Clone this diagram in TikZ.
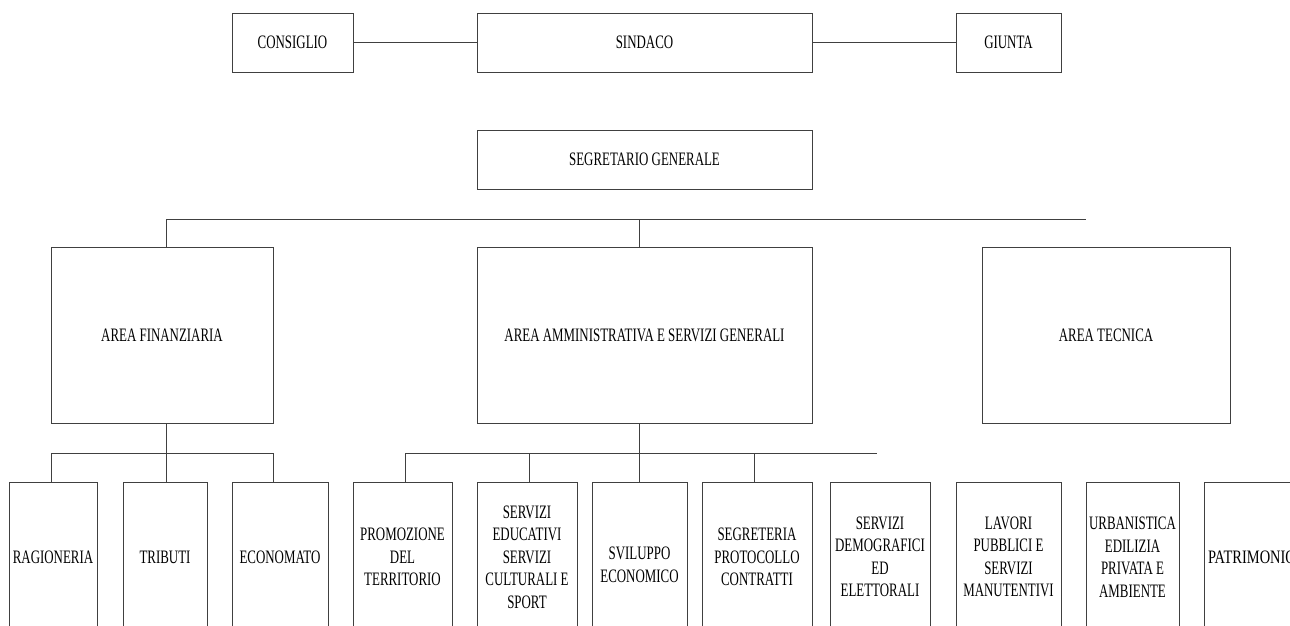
\documentclass[tikz,border=0pt]{standalone}
\usepackage{fontspec}
\setmainfont{Liberation Serif}[FakeStretch=0.68]
\begin{document}
\begin{tikzpicture}[x=1pt,y=-1pt,
  box/.style={draw=black!75, line width=0.9pt, rectangle, inner sep=0pt, align=center,
    font=\fontsize{19}{22.5}\selectfont},
  conn/.style={draw=black!75, line width=0.9pt}]
\useasboundingbox (0,0) rectangle (1290,626);
\clip (0,0) rectangle (1290,626);
% top row
\node[box, minimum width=121pt, minimum height=59pt] (cons) at (292.5,42.5) {CONSIGLIO};
\node[box, minimum width=335pt, minimum height=59pt] (sind) at (644.5,42.5) {SINDACO};
\node[box, minimum width=105pt, minimum height=59pt] (giun) at (1008.5,42.5) {GIUNTA};
\node[box, minimum width=335pt, minimum height=59pt] (segr) at (644.5,159.5) {SEGRETARIO GENERALE};
\draw[conn] (cons) -- (sind);
\draw[conn] (sind) -- (giun);
% areas
\node[box, minimum width=222pt, minimum height=176pt] (fin) at (162,335) {AREA FINANZIARIA};
\node[box, minimum width=335pt, minimum height=176pt] (amm) at (644.5,335) {AREA AMMINISTRATIVA E SERVIZI GENERALI};
\node[box, minimum width=248pt, minimum height=176pt] (tec) at (1106,335) {AREA TECNICA};
\coordinate (barL) at (166,219);
\coordinate (barM) at (639,219);
\coordinate (barR) at (1086,219);
\draw[conn] (barL) -- (barR);
\draw[conn] (barL) -- (barL |- fin.north);
\draw[conn] (barM) -- (barM |- amm.north);
% bottom boxes
\node[box, minimum width=88pt, minimum height=150pt] (rag) at (53,557) {RAGIONERIA};
\node[box, minimum width=84pt, minimum height=150pt] (trib) at (165,557) {TRIBUTI};
\node[box, minimum width=96pt, minimum height=150pt] (econ) at (280,557) {ECONOMATO};
\node[box, minimum width=99pt, minimum height=150pt] (prom) at (402.5,557) {PROMOZIONE\\DEL\\TERRITORIO};
\node[box, minimum width=100pt, minimum height=150pt] (edu) at (527,557) {SERVIZI\\EDUCATIVI\\SERVIZI\\CULTURALI E\\SPORT};
\node[box, minimum width=95pt, minimum height=166pt] (svil) at (639.5,565) {SVILUPPO\\ECONOMICO};
\node[box, minimum width=110pt, minimum height=150pt] (sgp) at (757,557) {SEGRETERIA\\PROTOCOLLO\\CONTRATTI};
\node[box, minimum width=100pt, minimum height=150pt] (demo) at (880,557) {SERVIZI\\DEMOGRAFICI\\ED\\ELETTORALI};
\node[box, minimum width=105pt, minimum height=150pt] (lav) at (1008.5,557) {LAVORI\\PUBBLICI E\\SERVIZI\\MANUTENTIVI};
\node[box, minimum width=93pt, minimum height=150pt] (urb) at (1132.5,557) {URBANISTICA\\EDILIZIA\\PRIVATA E\\AMBIENTE};
\node[box, minimum width=100pt, minimum height=150pt, text width=100pt, align=left] (pat) at (1254,557) {\hspace*{4pt}\scalebox{1.12}[1]{PATRIMONIO}};
% finanziaria sub-bar
\coordinate (fL) at (51,453);
\coordinate (fM) at (166,453);
\coordinate (fR) at (273,453);
\draw[conn] (fL) -- (fR);
\draw[conn] (fM |- fin.south) -- (fM |- trib.north);
\draw[conn] (fL) -- (fL |- rag.north);
\draw[conn] (fR) -- (fR |- econ.north);
% amministrativa sub-bar
\coordinate (aL) at (405,453);
\coordinate (a2) at (529,453);
\coordinate (aM) at (639,453);
\coordinate (a4) at (754,453);
\coordinate (aR) at (877,453);
\draw[conn] (aL) -- (aR);
\draw[conn] (aM |- amm.south) -- (aM |- svil.north);
\draw[conn] (aL) -- (aL |- prom.north);
\draw[conn] (a2) -- (a2 |- edu.north);
\draw[conn] (a4) -- (a4 |- sgp.north);
\end{tikzpicture}
\end{document}
